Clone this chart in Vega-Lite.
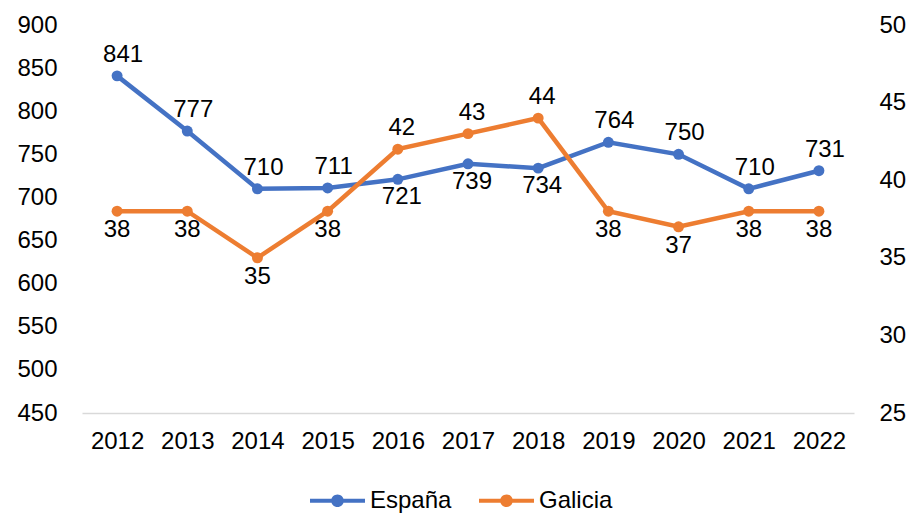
{
  "$schema": "https://vega.github.io/schema/vega-lite/v6.json",
  "autosize": "none",
  "width": 772,
  "height": 388,
  "padding": {"left": 82, "top": 25, "right": 56, "bottom": 102},
  "background": "white",
  "config": {
    "view": {"stroke": null},
    "font": "Liberation Sans",
    "axis": {"labelFont": "Liberation Sans", "labelFontSize": 24, "labelColor": "#000000", "ticks": false, "grid": false, "title": null}
  },
  "data": {
    "values": [
      {"year": "2012", "series": "España", "value": 841},
      {"year": "2013", "series": "España", "value": 777},
      {"year": "2014", "series": "España", "value": 710},
      {"year": "2015", "series": "España", "value": 711},
      {"year": "2016", "series": "España", "value": 721},
      {"year": "2017", "series": "España", "value": 739},
      {"year": "2018", "series": "España", "value": 734},
      {"year": "2019", "series": "España", "value": 764},
      {"year": "2020", "series": "España", "value": 750},
      {"year": "2021", "series": "España", "value": 710},
      {"year": "2022", "series": "España", "value": 731},
      {"year": "2012", "series": "Galicia", "value": 38},
      {"year": "2013", "series": "Galicia", "value": 38},
      {"year": "2014", "series": "Galicia", "value": 35},
      {"year": "2015", "series": "Galicia", "value": 38},
      {"year": "2016", "series": "Galicia", "value": 42},
      {"year": "2017", "series": "Galicia", "value": 43},
      {"year": "2018", "series": "Galicia", "value": 44},
      {"year": "2019", "series": "Galicia", "value": 38},
      {"year": "2020", "series": "Galicia", "value": 37},
      {"year": "2021", "series": "Galicia", "value": 38},
      {"year": "2022", "series": "Galicia", "value": 38}
    ]
  },
  "encoding": {
    "x": {
      "field": "year", "type": "ordinal",
      "scale": {"type": "point", "padding": 0.5},
      "axis": {"labelAngle": 0, "domain": true, "domainColor": "#D9D9D9", "domainWidth": 1.5, "labelPadding": 16}
    }
  },
  "layer": [
    {
      "transform": [{"filter": "datum.series === 'España'"}],
      "encoding": {
        "y": {
          "field": "value", "type": "quantitative",
          "scale": {"domain": [450, 900], "nice": false, "zero": false},
          "axis": {"orient": "left", "values": [450, 500, 550, 600, 650, 700, 750, 800, 850, 900], "domain": false, "labelPadding": 25}
        }
      },
      "layer": [
        {
          "mark": {"type": "line", "strokeWidth": 4.5},
          "encoding": {"color": {"field": "series", "type": "nominal", "scale": {"domain": ["España", "Galicia"], "range": ["#4472C4", "#ED7D31"]}, "legend": {"title": null, "orient": "none", "legendX": 228, "legendY": 448, "direction": "horizontal", "labelFont": "Liberation Sans", "labelFontSize": 24, "labelColor": "#000000", "symbolType": "M-1,-0.075L1,-0.075L1,0.075L-1,0.075Z M-0.23,0A0.23,0.23 0 1,1 0.23,0A0.23,0.23 0 1,1 -0.23,0Z", "symbolSize": 3025, "symbolStrokeWidth": 0, "labelOffset": 5, "columnPadding": 27, "encode": {"symbols": {"update": {"fill": {"scale": "color", "field": "value"}, "fillOpacity": {"value": 1}}}}}}}
        },
        {
          "mark": {"type": "circle", "size": 120, "opacity": 1},
          "encoding": {"color": {"field": "series", "type": "nominal"}}
        },
        {
          "transform": [{"filter": "indexof(['2016','2017','2018'], datum.year) < 0"}],
          "mark": {"type": "text", "baseline": "bottom", "dy": -9, "dx": 6, "fontSize": 24, "font": "Liberation Sans", "color": "#000000"},
          "encoding": {"text": {"field": "value", "type": "quantitative"}}
        },
        {
          "transform": [{"filter": "indexof(['2016','2017','2018'], datum.year) >= 0"}],
          "mark": {"type": "text", "baseline": "top", "dy": 6, "dx": 4, "fontSize": 24, "font": "Liberation Sans", "color": "#000000"},
          "encoding": {"text": {"field": "value", "type": "quantitative"}}
        }
      ]
    },
    {
      "transform": [{"filter": "datum.series === 'Galicia'"}],
      "encoding": {
        "y": {
          "field": "value", "type": "quantitative",
          "scale": {"domain": [25, 50], "nice": false, "zero": false},
          "axis": {"orient": "right", "values": [25, 30, 35, 40, 45, 50], "domain": false, "labelPadding": 25}
        }
      },
      "layer": [
        {
          "mark": {"type": "line", "strokeWidth": 4.5},
          "encoding": {"color": {"field": "series", "type": "nominal"}}
        },
        {
          "mark": {"type": "circle", "size": 120, "opacity": 1},
          "encoding": {"color": {"field": "series", "type": "nominal"}}
        },
        {
          "transform": [{"filter": "indexof(['2016','2017','2018'], datum.year) >= 0"}],
          "mark": {"type": "text", "baseline": "bottom", "dy": -9, "dx": 4, "fontSize": 24, "font": "Liberation Sans", "color": "#000000"},
          "encoding": {"text": {"field": "value", "type": "quantitative"}}
        },
        {
          "transform": [{"filter": "indexof(['2016','2017','2018'], datum.year) < 0"}],
          "mark": {"type": "text", "baseline": "top", "dy": 7, "fontSize": 24, "font": "Liberation Sans", "color": "#000000"},
          "encoding": {"text": {"field": "value", "type": "quantitative"}}
        }
      ]
    }
  ],
  "resolve": {"scale": {"y": "independent"}, "axis": {"y": "independent"}}
}
